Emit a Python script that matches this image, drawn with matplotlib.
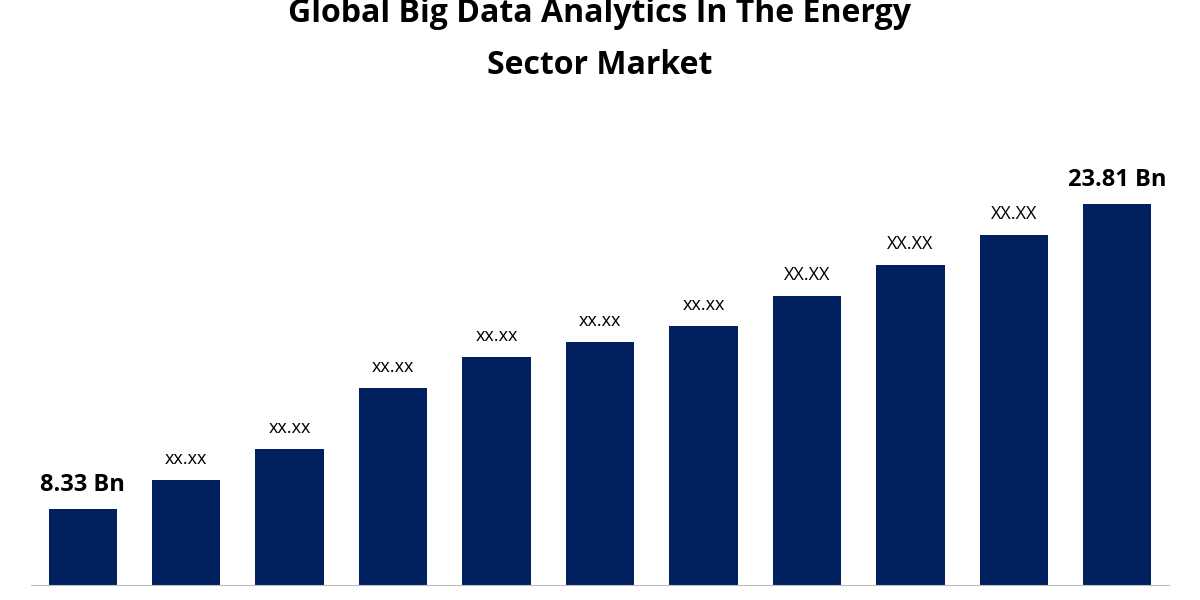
import matplotlib.pyplot as plt

years = list(range(11))
values = [8.33, 9.80, 11.37, 14.47, 16.04, 16.80, 17.61, 19.14, 20.71, 22.23, 23.81]
labels = ["8.33 Bn", "xx.xx", "xx.xx", "xx.xx", "xx.xx", "xx.xx", "xx.xx",
          "XX.XX", "XX.XX", "XX.XX", "23.81 Bn"]

plt.rcParams['font.family'] = ['Open Sans', 'DejaVu Sans']

fig = plt.figure(figsize=(12, 6), dpi=100)
ax = fig.add_axes([31 / 1200, 15 / 600, 1138 / 1200, 435 / 600])
ax.bar(years, values, width=0.66, color="#002060")
ax.set_xlim(-0.5, 10.5)
ax.set_ylim(4.47, 26.55)

for i, (v, t) in enumerate(zip(values, labels)):
    bold = t.endswith("Bn")
    ax.text(i, v + 0.6, t, ha="center", va="bottom",
            fontsize=17 if bold else 13,
            fontweight="bold" if bold else "normal", color="black")

for s in ["top", "right", "left"]:
    ax.spines[s].set_visible(False)
ax.spines["bottom"].set_color("#bfbfbf")
ax.set_xticks([])
ax.set_yticks([])

fig.text(0.5, 1 - 14 / 600, "Global Big Data Analytics In The Energy",
         ha="center", va="center", fontsize=23, fontweight="bold")
fig.text(0.5, 1 - 65 / 600, "Sector Market",
         ha="center", va="center", fontsize=23, fontweight="bold")

fig.savefig("out.png", dpi=100)
